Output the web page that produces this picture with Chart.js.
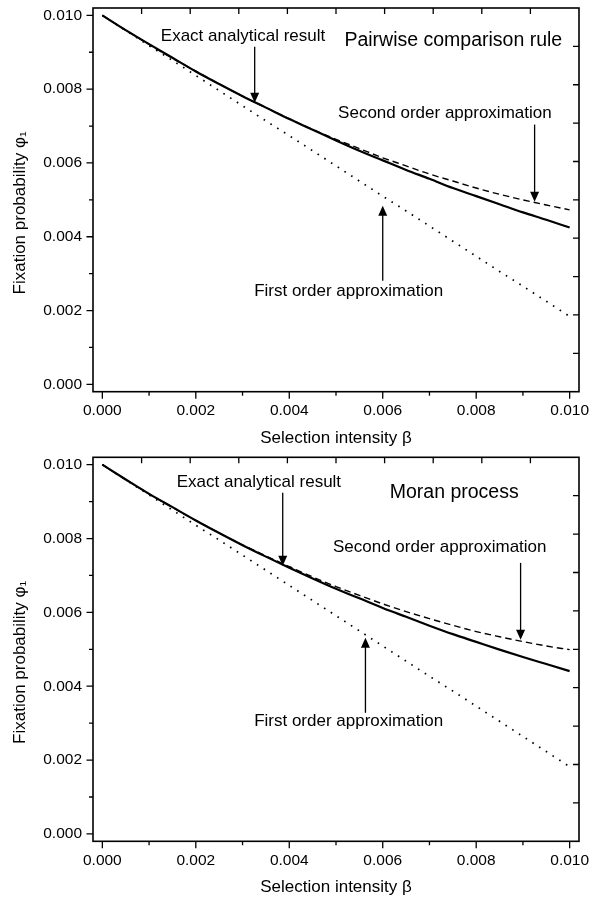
<!DOCTYPE html>
<html>
<head>
<meta charset="utf-8">
<script src="https://cdn.jsdelivr.net/npm/chart.js@4.4.1/dist/chart.umd.min.js"></script>
<style>
body { margin: 0; background: #fff; }
#wrap { position: relative; width: 600px; height: 899px; }
.box { position: absolute; left: 0; width: 600px; }
</style>
</head>
<body>
<div id="wrap">
  <div class="box" style="top:0;height:450px"><canvas id="pairwise"></canvas></div>
  <div class="box" style="top:450px;height:449px"><canvas id="moran"></canvas></div>
</div>
<script>
// selection intensity values (x)
const beta = [0, 0.0005, 0.001, 0.0015, 0.002, 0.0025, 0.003, 0.0035, 0.004, 0.0045, 0.005,
              0.0055, 0.006, 0.0065, 0.007, 0.0075, 0.008, 0.0085, 0.009, 0.0095, 0.010]

// pairwise comparison rule
const pairExact = [0.01000, 0.00960, 0.00922, 0.00885, 0.00848, 0.00814, 0.00781, 0.00750, 0.00719, 0.00690, 0.00661,
                   0.00633, 0.00607, 0.00581, 0.00557, 0.00532, 0.00510, 0.00488, 0.00466, 0.00446, 0.00425]
const pairSecond = [0.01000, 0.00960, 0.00921, 0.00884, 0.00849, 0.00814, 0.00781, 0.00750, 0.00720, 0.00691, 0.00664,
                    0.00639, 0.00614, 0.00592, 0.00570, 0.00551, 0.00532, 0.00515, 0.00500, 0.00486, 0.00473]
const pairFirst = [0.01000, 0.00959, 0.00918, 0.00878, 0.00837, 0.00796, 0.00755, 0.00714, 0.00674, 0.00633, 0.00592,
                   0.00551, 0.00510, 0.00470, 0.00429, 0.00388, 0.00347, 0.00306, 0.00266, 0.00225, 0.00184]

// Moran process
const moranExact = [0.01000, 0.00960, 0.00921, 0.00885, 0.00849, 0.00815, 0.00782, 0.00751, 0.00721, 0.00692, 0.00664,
                    0.00638, 0.00612, 0.00588, 0.00564, 0.00541, 0.00520, 0.00499, 0.00479, 0.00460, 0.00441]
const moranSecond = [0.01000, 0.00960, 0.00921, 0.00884, 0.00849, 0.00815, 0.00783, 0.00753, 0.00724, 0.00696, 0.00670,
                     0.00646, 0.00623, 0.00602, 0.00583, 0.00565, 0.00548, 0.00534, 0.00521, 0.00509, 0.00499]
const moranFirst = [0.01000, 0.00959, 0.00918, 0.00877, 0.00836, 0.00796, 0.00755, 0.00714, 0.00673, 0.00632, 0.00591,
                    0.00550, 0.00509, 0.00468, 0.00427, 0.00387, 0.00346, 0.00305, 0.00264, 0.00223, 0.00182]

const xTitle = 'Selection intensity \u03b2'
const yTitle = 'Fixation probability \u03c6\u2081'
const FONT = '"Liberation Sans", Arial, Helvetica, sans-serif'

function pts(ys) {
    return beta.map((b, i) => ({ x: b, y: ys[i] }))
}

function isMajor(v) {
    return Math.round(v * 1000) % 2 === 0
}

// notes: text labels and arrows, placed in data units
function makeChart(id, exact, second, first, notes, pad, xHeight) {
    const notesPlugin = {
        id: 'notes',
        afterDraw(chart) {
            const ctx = chart.ctx
            const a = chart.chartArea
            const sx = chart.scales.x, sy = chart.scales.y
            ctx.save()
            ctx.strokeStyle = '#000'
            ctx.fillStyle = '#000'
            // frame
            ctx.lineWidth = 1.6
            ctx.strokeRect(a.left, a.top, a.right - a.left, a.bottom - a.top)
            // ticks
            ctx.lineWidth = 1.3
            ctx.beginPath()
            sy.ticks.forEach(t => {
                const p = sy.getPixelForValue(t.value)
                const len = isMajor(t.value) ? 6.5 : 4
                ctx.moveTo(a.left - len, p); ctx.lineTo(a.left, p)
            })
            sx.ticks.forEach(t => {
                const p = sx.getPixelForValue(t.value)
                const len = isMajor(t.value) ? 7 : 4
                ctx.moveTo(p, a.bottom); ctx.lineTo(p, a.bottom + len)
            })
            for (let k = 1; k < 10; k++) {
                const px = a.left + k * (a.right - a.left) / 10
                ctx.moveTo(px, a.top); ctx.lineTo(px, a.top + 6)
                const py = a.top + k * (a.bottom - a.top) / 10
                ctx.moveTo(a.right, py); ctx.lineTo(a.right - 6, py)
            }
            ctx.stroke()

            ctx.textAlign = 'center'
            ctx.textBaseline = 'middle'
            // y axis title, sitting a little below the middle as in the original
            ctx.save()
            ctx.font = '17px ' + FONT
            ctx.translate(20.2, (a.top + a.bottom) / 2 + 13)
            ctx.rotate(-Math.PI / 2)
            ctx.fillText(yTitle, 0, 0)
            ctx.restore()

            notes.texts.forEach(n => {
                ctx.font = n.size + 'px ' + FONT
                ctx.fillText(n.text, sx.getPixelForValue(n.x), sy.getPixelForValue(n.y))
            })
            ctx.lineWidth = 1.3
            notes.arrows.forEach(ar => {
                const x = sx.getPixelForValue(ar.x)
                const y1 = sy.getPixelForValue(ar.from)
                const y2 = sy.getPixelForValue(ar.to)
                const dir = y2 > y1 ? 1 : -1
                ctx.beginPath()
                ctx.moveTo(x, y1); ctx.lineTo(x, y2 - dir * 9)
                ctx.stroke()
                ctx.beginPath()
                ctx.moveTo(x, y2)
                ctx.lineTo(x - 4.5, y2 - dir * 10)
                ctx.lineTo(x + 4.5, y2 - dir * 10)
                ctx.closePath()
                ctx.fill()
            })
            ctx.restore()
        }
    }

    return new Chart(document.getElementById(id), {
        type: 'scatter',
        data: {
            datasets: [
                { label: 'Exact analytical result', data: pts(exact), showLine: true, borderColor: '#000',
                  borderWidth: 2.2, pointRadius: 0, cubicInterpolationMode: 'monotone' },
                { label: 'Second order approximation', data: pts(second), showLine: true, borderColor: '#000',
                  borderWidth: 1.4, borderDash: [6.5, 4], pointRadius: 0, cubicInterpolationMode: 'monotone' },
                { label: 'First order approximation', data: pts(first), showLine: true, borderColor: '#000',
                  borderWidth: 1.7, borderDash: [1.6, 6.4], pointRadius: 0 }
            ]
        },
        options: {
            responsive: true,
            maintainAspectRatio: false,
            animation: false,
            layout: { padding: pad },
            plugins: { legend: { display: false }, tooltip: { enabled: false } },
            scales: {
                x: {
                    type: 'linear', position: 'bottom', min: -0.0002, max: 0.0102,
                    afterFit(s) { s.height = xHeight; s.paddingLeft = 0; s.paddingRight = 0 },
                    grid: { display: false, drawTicks: false }, border: { display: false },
                    ticks: {
                        stepSize: 0.001, includeBounds: false, autoSkip: false, maxRotation: 0,
                        padding: 10, color: '#000', font: { family: FONT, size: 15.5 },
                        callback: v => isMajor(v) ? (Math.round(v * 1000) / 1000).toFixed(3) : ''
                    },
                    title: { display: true, text: xTitle, color: '#000', font: { family: FONT, size: 17 },
                             padding: { top: 0, bottom: 1 } }
                },
                y: {
                    type: 'linear', min: -0.0002, max: 0.0102,
                    afterFit(s) { s.width = 93; s.paddingTop = 0; s.paddingBottom = 0 },
                    grid: { display: false, drawTicks: false }, border: { display: false },
                    ticks: {
                        stepSize: 0.001, includeBounds: false, autoSkip: false,
                        padding: 11, color: '#000', font: { family: FONT, size: 15.5 },
                        callback: v => isMajor(v) ? (Math.round(v * 1000) / 1000).toFixed(3) : ''
                    },
                    title: { display: false }
                }
            }
        },
        plugins: [notesPlugin]
    })
}

const pairNotes = {
    texts: [
        { text: 'Exact analytical result', x: 0.00301, y: 0.00942, size: 17 },
        { text: 'Pairwise comparison rule', x: 0.00751, y: 0.00931, size: 19.5 },
        { text: 'Second order approximation', x: 0.00733, y: 0.00734, size: 17 },
        { text: 'First order approximation', x: 0.00527, y: 0.00251, size: 17 }
    ],
    arrows: [
        { x: 0.00326, from: 0.00915, to: 0.00763 },
        { x: 0.00925, from: 0.00704, to: 0.00495 },
        { x: 0.00600, from: 0.00281, to: 0.00484 }
    ]
}

const moranNotes = {
    texts: [
        { text: 'Exact analytical result', x: 0.00335, y: 0.00951, size: 17 },
        { text: 'Moran process', x: 0.00753, y: 0.00924, size: 19.5 },
        { text: 'Second order approximation', x: 0.00722, y: 0.00775, size: 17 },
        { text: 'First order approximation', x: 0.00527, y: 0.00304, size: 17 }
    ],
    arrows: [
        { x: 0.00386, from: 0.00924, to: 0.00726 },
        { x: 0.00895, from: 0.00734, to: 0.00526 },
        { x: 0.00563, from: 0.00328, to: 0.00531 }
    ]
}

makeChart('pairwise', pairExact, pairSecond, pairFirst, pairNotes,
          { top: 8, right: 21, left: 0, bottom: 0 }, 58.3)
makeChart('moran', moranExact, moranSecond, moranFirst, moranNotes,
          { top: 7.3, right: 21, left: 0, bottom: 0 }, 57.7)
</script>
</body>
</html>
